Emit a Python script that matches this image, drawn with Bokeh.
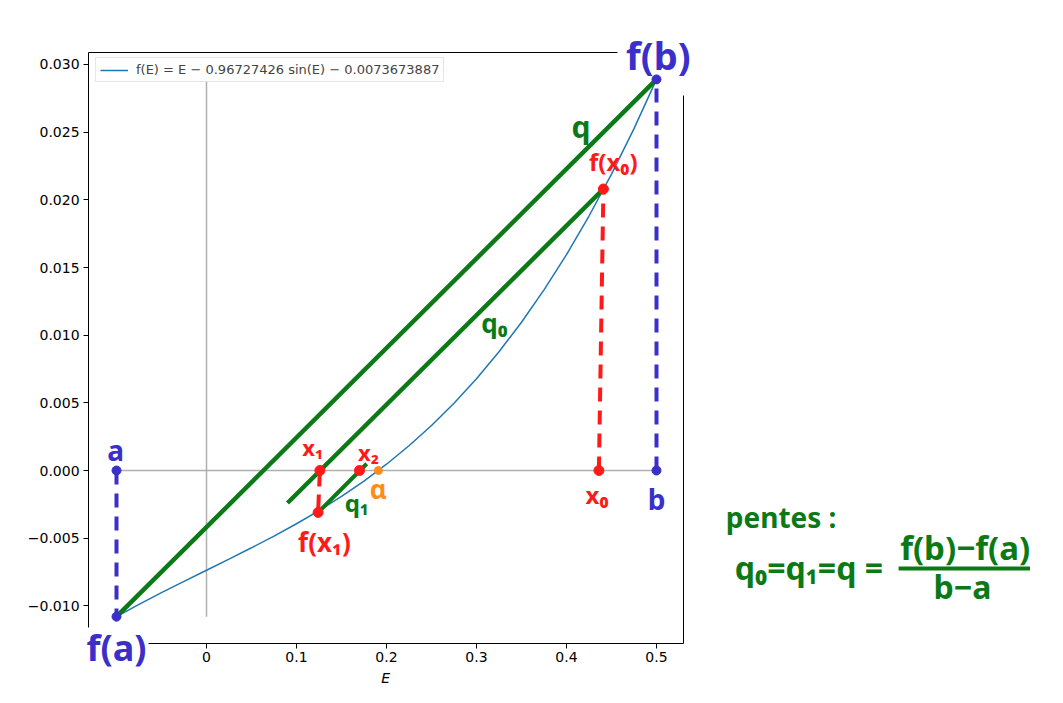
from bokeh.plotting import figure
from bokeh.models import Range1d, Label, Arrow, FixedTicker, Legend, LegendItem, LinearAxis
from bokeh.embed import file_html
from bokeh.resources import INLINE

# ---- data ----
E_vals = [-0.1, -0.075, -0.05, -0.025, 0.0, 0.025, 0.05, 0.075, 0.1, 0.125, 0.15, 0.175,
          0.2, 0.225, 0.25, 0.275, 0.3, 0.325, 0.35, 0.375, 0.4, 0.425, 0.45, 0.475, 0.5]
f_vals = [-0.010801, -0.009890, -0.009024, -0.008188, -0.007367, -0.006547, -0.005711,
          -0.004845, -0.003934, -0.002962, -0.001915, -0.000778, 0.000465, 0.001828,
          0.003325, 0.004972, 0.006784, 0.008773, 0.010956, 0.013347, 0.015958, 0.018805,
          0.021902, 0.025261, 0.028897]

a_pt = (-0.1, 0.0)
b_pt = (0.5, 0.0)
fa_pt = (-0.1, -0.0108)
fb_pt = (0.5, 0.0289)
x0_pt = (0.436, 0.0)
fx0_pt = (0.441, 0.0208)
x1_pt = (0.126, 0.0)
fx1_pt = (0.124, -0.0031)
x2_pt = (0.170, 0.0)
alpha_pt = (0.191, 0.0)

q_x = [-0.1, 0.5]
q_y = [-0.0108, 0.0289]
q0_x = [0.09, 0.441]
q0_y = [-0.0024, 0.0208]
q1_x = [0.124, 0.178]
q1_y = [-0.0031, 0.0005]

x_ticks = [0.0, 0.1, 0.2, 0.3, 0.4, 0.5]
y_ticks = [-0.010, -0.005, 0.0, 0.005, 0.010, 0.015, 0.020, 0.025, 0.030]
y_tick_labels = ["\u22120.010", "\u22120.005", "0.000", "0.005", "0.010", "0.015", "0.020", "0.025", "0.030"]

# axes box of the original chart (data units)
X_LO, X_HI = -0.131, 0.53
Y_LO, Y_HI = -0.01278, 0.03089

BLUE = "#3b2fc9"
RED = "#ff1a1a"
GREEN = "#0b7a16"
ORANGE = "#ff8c1a"
HAND = "Noto Sans"

# the frame covers the whole canvas so that hand-written notes outside the axes box are visible
p = figure(width=1047, height=687,
           x_range=Range1d(-0.228889, 0.934444), y_range=Range1d(-0.016034, 0.034729),
           x_axis_type=None, y_axis_type=None,
           output_backend="svg", toolbar_location=None, min_border=0)
p.grid.visible = False
p.outline_line_color = None
p.background_fill_color = "white"
p.border_fill_color = "white"


def style_axis(ax):
    ax.major_tick_out = 5
    ax.major_tick_in = 0
    ax.minor_tick_out = 0
    ax.minor_tick_in = 0
    ax.major_label_text_font = "DejaVu Sans"
    ax.major_label_text_font_size = "14px"
    ax.major_label_text_color = "black"
    ax.axis_line_color = "black"
    ax.axis_line_width = 1
    ax.major_tick_line_color = "black"
    ax.major_label_standoff = 4


xax = LinearAxis(fixed_location=Y_LO, bounds=(-0.0644, X_HI), ticker=FixedTicker(ticks=x_ticks))
style_axis(xax)
p.add_layout(xax, "below")

yax = LinearAxis(fixed_location=X_LO, bounds=(-0.0116, Y_HI), ticker=FixedTicker(ticks=y_ticks))
style_axis(yax)
yax.major_label_overrides = {t: l for t, l in zip(y_ticks, y_tick_labels)}
p.add_layout(yax, "left")

top_ax = LinearAxis(fixed_location=Y_HI, bounds=(X_LO, 0.457), ticker=FixedTicker(ticks=[]))
style_axis(top_ax)
top_ax.major_tick_out = 0
p.add_layout(top_ax, "above")

right_ax = LinearAxis(fixed_location=X_HI, bounds=(Y_LO, 0.0277), ticker=FixedTicker(ticks=[]))
style_axis(right_ax)
right_ax.major_tick_out = 0
p.add_layout(right_ax, "right")

p.add_layout(Label(x=0.199, y=-0.0153, text="E", text_font="DejaVu Sans", text_font_style="italic",
                   text_font_size="14px", text_align="center", text_baseline="middle",
                   text_color="black"))

# gray reference lines
p.line([a_pt[0], b_pt[0]], [0, 0], line_color="#b0b0b0", line_width=1.5)
p.line([0, 0], [min(f_vals), max(f_vals)], line_color="#b0b0b0", line_width=1.5)

# function curve
curve = p.line(E_vals, f_vals, line_color="#1f77b4", line_width=1.5)

# chords / parallel lines
p.line(q_x, q_y, line_color=GREEN, line_width=4.5)
p.line(q0_x, q0_y, line_color=GREEN, line_width=4.5)
p.line(q1_x, q1_y, line_color=GREEN, line_width=4)

# dashed verticals
p.line([a_pt[0], fa_pt[0]], [a_pt[1], fa_pt[1]], line_color=BLUE, line_width=4, line_dash="14 9")
p.line([b_pt[0], fb_pt[0]], [b_pt[1], fb_pt[1]], line_color=BLUE, line_width=4, line_dash="14 9")
p.line([x0_pt[0], fx0_pt[0]], [x0_pt[1], fx0_pt[1]], line_color=RED, line_width=4, line_dash="14 9")
p.line([x1_pt[0], fx1_pt[0]], [x1_pt[1], fx1_pt[1]], line_color=RED, line_width=4, line_dash="16 8")

# points
p.scatter([a_pt[0], b_pt[0], fa_pt[0], fb_pt[0]], [a_pt[1], b_pt[1], fa_pt[1], fb_pt[1]],
          size=9, color=BLUE)
p.scatter([x0_pt[0], fx0_pt[0], x1_pt[0], fx1_pt[0], x2_pt[0]],
          [x0_pt[1], fx0_pt[1], x1_pt[1], fx1_pt[1], x2_pt[1]], size=10, color=RED)
p.scatter([alpha_pt[0]], [alpha_pt[1]], size=8, color=ORANGE)

legend = Legend(items=[LegendItem(label="f(E) = E \u2212 0.96727426 sin(E) \u2212 0.0073673887",
                                  renderers=[curve])],
                location=(95, 605), label_text_font="DejaVu Sans", label_text_font_size="13px",
                glyph_width=28, glyph_height=14, padding=4, margin=0, spacing=0,
                border_line_color="#cccccc", border_line_width=1,
                label_standoff=8, background_fill_alpha=0.9)
p.add_layout(legend)


def hand(x, y, txt, color, size, align="center"):
    p.add_layout(Label(x=x, y=y, text=txt, text_color=color, text_font=HAND,
                       text_font_style="bold", text_font_size=f"{size}px",
                       text_align=align, text_baseline="middle"))


hand(0.502, 0.0307, "f(b)", BLUE, 38)
hand(-0.101, 0.0015, "a", BLUE, 28)
hand(0.500, -0.0021, "b", BLUE, 28)
hand(-0.100, -0.0131, "f(a)", BLUE, 36)
hand(0.434, -0.0018, "x\u2080", RED, 24)
hand(0.416, 0.0254, "q", GREEN, 30)
hand(0.452, 0.0228, "f(x\u2080)", RED, 24)
hand(0.320, 0.0109, "q\u2080", GREEN, 26)
hand(0.118, 0.0017, "x\u2081", RED, 22)
hand(0.180, 0.0014, "x\u2082", RED, 22)
hand(0.191, -0.0014, "\u03b1", ORANGE, 26)
hand(0.167, -0.0024, "q\u2081", GREEN, 24)
hand(0.131, -0.0053, "f(x\u2081)", RED, 26)

hand(0.577, -0.0034, "pentes :", GREEN, 28, align="left")
hand(0.587, -0.0072, "q\u2080=q\u2081=q =", GREEN, 32, align="left")
hand(0.843, -0.0057, "f(b)\u2212f(a)", GREEN, 33)
hand(0.840, -0.0086, "b\u2212a", GREEN, 32)
p.add_layout(Arrow(x_start=0.769, y_start=-0.00725, x_end=0.915, y_end=-0.00725,
                   start=None, end=None, line_color=GREEN, line_width=4))

open("out.html", "w").write(file_html(p, INLINE))
